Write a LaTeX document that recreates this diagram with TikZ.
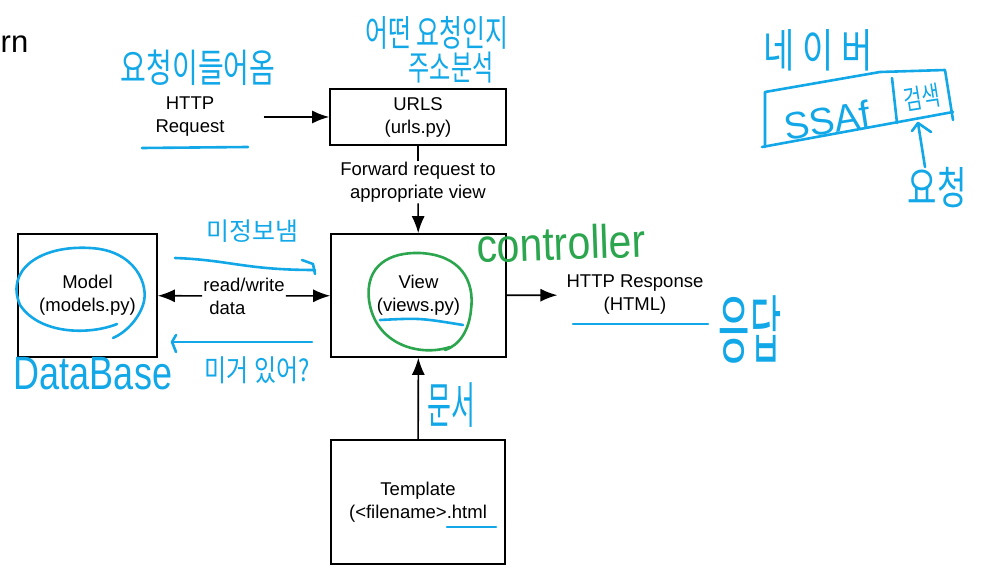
\documentclass[tikz,border=0pt]{standalone}
\usepackage{fontspec}
\setmainfont{Liberation Sans}
\newfontfamily\kr{Noto Sans CJK KR}
\usetikzlibrary{positioning,arrows.meta}
\definecolor{penblue}{RGB}{18,168,232}
\definecolor{pengreen}{RGB}{44,166,78}

\begin{document}
\begin{tikzpicture}[x=1pt,y=-1pt,>={Latex[length=17pt,width=13pt]},font=\fontsize{18.5}{23}\selectfont]
\tikzstyle{bx} = [draw,line width=1.6pt,fill=white,shape=rectangle,align=center]
\tikzstyle{lb} = [align=center,inner sep=1pt]
\tikzstyle{ar} = [->,line width=1.6pt]
\tikzstyle{pen} = [draw=penblue,line width=2.6pt,line cap=round,line join=round]
\tikzstyle{gpen} = [pen,draw=pengreen]
\tikzstyle{hw} = [text=penblue,inner sep=0pt]
\useasboundingbox (0,0) rectangle (994,569);
\node[anchor=base west,inner sep=0pt,font=\fontsize{31}{33}\selectfont] (title) at (0.5,53) {rn};
% the MVT boxes
\node[bx,minimum width=176pt,minimum height=56pt] (urls) at (418,117) {URLS\\(urls.py)};
\node[bx,minimum width=139pt,minimum height=123pt] (model) at (87.5,295.5) {Model\\(models.py)};
\node[bx,minimum width=175pt,minimum height=123pt] (view) at (418.5,295.5) {View\\(views.py)};
\node[bx,minimum width=174pt,minimum height=124pt] (tmpl) at (418,502) {Template\\(<filename>.html};
\node[lb] (req) at (190,117) {HTTP\\Request};
\node[lb] (fwd) at (418,182) {Forward request to\\appropriate view};
\node[lb,align=left] (rw) at (244,296) {read/write\\\hspace*{6pt}data};
\node[lb,inner xsep=9pt] (resp) at (635,295) {HTTP Response\\(HTML)};
\draw[ar,shorten <=38pt] (req) -- (urls);
\draw[line width=1.6pt] (urls) -- (fwd);
\draw[ar] (fwd) -- (view);
\draw[ar] (rw) -- (model);
\draw[ar] (rw) -- (view);
\draw[ar] (view) -- (resp);
\draw[ar] (tmpl) -- (view);
% handwritten notes
\node[hw,font=\kr\fontsize{28}{28}\selectfont] (n1) at (198,68) {\scalebox{1}[1.4]{요청이들어옴}};
\node[hw,font=\kr\fontsize{25}{25}\selectfont] (n2) at (437,33) {\scalebox{1}[1.45]{어떤 요청인지}};
\node[hw,font=\kr\fontsize{23}{23}\selectfont] (n3) at (451,68) {\scalebox{1}[1.5]{주소분석}};
\node[hw,font=\kr\fontsize{25}{25}\selectfont] (n4) at (252,231) {미정보냄};
\node[hw,font=\kr\fontsize{24}{24}\selectfont] (n5) at (257,370) {\scalebox{1}[1.25]{미거 있어?}};
\node[hw,font=\fontsize{36}{36}\selectfont] (db) at (93,374) {\scalebox{1}[1.3]{DataBase}};
\node[hw,font=\kr\fontsize{26}{26}\selectfont] (n6) at (451,405) {\scalebox{1}[1.9]{문서}};
\node[hw,font=\kr\fontsize{34}{34}\selectfont] (n7) at (750,329) {\scalebox{1}[2.2]{응답}};
\node[hw,text=pengreen,font=\fontsize{41}{41}\selectfont,rotate=2] (ctrl) at (561,243) {\scalebox{1}[1.15]{controller}};
\node[hw,font=\kr\fontsize{34}{34}\selectfont] (n8) at (818,50) {\scalebox{1}[1.35]{네 이 버}};
\node[hw,font=\fontsize{38}{38}\selectfont,rotate=9] (ssaf) at (827,120) {SSAf};
\node[hw,font=\kr\fontsize{20}{20}\selectfont,rotate=9] (srch) at (922,98) {\scalebox{1}[1.35]{검색}};
\node[hw,font=\kr\fontsize{32}{32}\selectfont] (n9) at (937,188) {\scalebox{1}[1.4]{요청}};
\coordinate (a1) at (175,258);
\coordinate (a2) at (315,270);
\coordinate (b1) at (312,342);
\coordinate (b2) at (172,342);
\coordinate (q1) at (925,167);
\coordinate (q2) at (918,123);
\draw[pen] (142,148) -- (248,147);
\draw[pen] (380,320) .. controls (420,318) .. (463,325);
\draw[pen] (573,324) -- (708,324);
\draw[pen] (447,527) -- (496,527);
\draw[pen] (a1) .. controls (230,260) and (245,270) .. (a2);
\draw[pen] (302,260) -- (313,264) -- (315,274);
\draw[pen] (b1) -- (b2);
\draw[pen] (176,335) -- (b2) -- (176,352);
\draw[pen] (q1) -- (q2);
\draw[pen] (912,131) -- (q2) -- (931,132);
% search box
\draw[pen] (765,147) -- (765,92) -- (880,72) -- (945,70) -- (953,120);
\draw[pen] (762,147) -- (953,112);
\draw[pen] (892,78) -- (897,123);
% circles
\draw[pen] (117,324) .. controls (90,335) and (40,335) .. (20,305) .. controls (5,270) and (40,245) .. (90,248) .. controls (135,250) and (150,285) .. (143,305) .. controls (138,320) and (125,333) .. (113,338);
\draw[gpen] (450,347) .. controls (420,357) and (375,345) .. (369,300) .. controls (365,265) and (390,252) .. (420,253) .. controls (460,255) and (475,280) .. (471,310) .. controls (469,330) and (460,345) .. (445,350);
\end{tikzpicture}
\end{document}
